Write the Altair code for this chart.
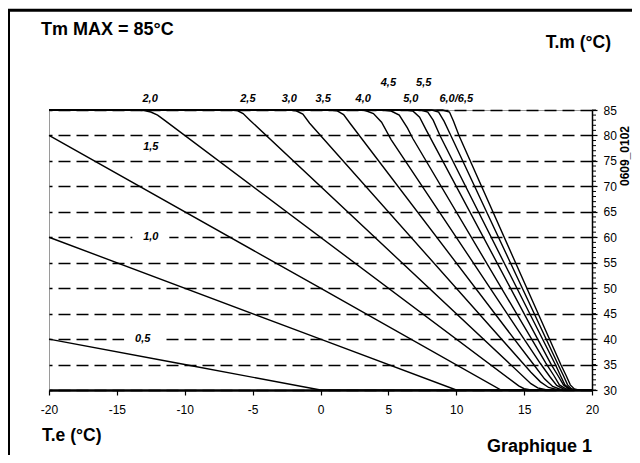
import altair as alt
import pandas as pd

# ---------------- data ----------------
k_names = ["0,5", "1,0", "1,5", "2,0", "2,5", "3,0", "3,5",
           "4,0", "4,5", "5,0", "5,5", "6,0", "6,5"]

te_points = {
    "0,5": [-20, -10, 0, 20],
    "1,0": [-20, 0, 10, 20],
    "1,5": [-20, 0, 13.3, 20],
    "2,0": [-20, -13.6, -13.0, -12.5, -12.0, -11.5, 14.6, 15.0, 15.5, 20],
    "2,5": [-20, -6.6, -6.1, -5.7, -5.2, 15.5, 16.0, 16.6, 17.2, 20],
    "3,0": [-20, -2.3, -1.8, -1.3, -0.8, 15.5, 16.2, 16.8, 17.4, 18.0, 20],
    "3,5": [-20, 0.7, 1.2, 1.7, 2.2, 15.7, 16.5, 17.1, 17.7, 18.3, 20],
    "4,0": [-20, 2.7, 3.3, 3.9, 4.5, 5.2, 16.2, 16.9, 17.4, 17.9, 18.4, 20],
    "4,5": [-20, 4.6, 5.2, 5.8, 6.4, 6.8, 16.6, 17.2, 17.6, 18.1, 18.6, 20],
    "5,0": [-20, 6.3, 6.8, 7.3, 7.8, 17.0, 17.5, 17.9, 18.3, 18.7, 20],
    "5,5": [-20, 7.4, 7.9, 8.3, 8.8, 17.3, 17.7, 18.0, 18.4, 18.8, 20],
    "6,0": [-20, 8.2, 8.7, 9.1, 9.6, 17.5, 17.9, 18.2, 18.5, 18.9, 20],
    "6,5": [-20, 9.0, 9.5, 9.8, 10.2, 17.7, 18.1, 18.4, 18.7, 19.0, 20],
}
tm_points = {
    "0,5": [40, 35, 30, 30],
    "1,0": [60, 40, 30, 30],
    "1,5": [80, 50, 30, 30],
    "2,0": [85, 85, 84.9, 84.6, 84.0, 83.0, 30.8, 30.25, 30, 30],
    "2,5": [85, 85, 84.85, 84.3, 83.0, 31.25, 30.4, 30.05, 30, 30],
    "3,0": [85, 85, 84.85, 84.2, 82.4, 33.5, 31.6, 30.5, 30.1, 30, 30],
    "3,5": [85, 85, 84.85, 84.1, 82.3, 35, 32.2, 30.7, 30.1, 30, 30],
    "4,0": [85, 85, 84.9, 84.3, 82.6, 79.2, 35.2, 32.6, 30.9, 30.2, 30, 30],
    "4,5": [85, 85, 84.8, 84.0, 81.5, 79.4, 35.3, 32.8, 31.0, 30.2, 30, 30],
    "5,0": [85, 85, 84.8, 83.6, 81.0, 35, 32.8, 31.0, 30.2, 30, 30],
    "5,5": [85, 85, 84.6, 83.0, 80.0, 35, 32.7, 31.0, 30.2, 30, 30],
    "6,0": [85, 85, 84.6, 82.8, 80.0, 35, 32.8, 31.0, 30.2, 30, 30],
    "6,5": [85, 85, 84.6, 82.8, 80.0, 35, 32.8, 31.0, 30.2, 30, 30],
}

# curve labels above the top line (two rows) and inside the plot
top_low_text = ["2,0", "2,5", "3,0", "3,5", "4,0", "5,0", "6,0/6,5"]
top_low_te = [-12.55, -5.35, -2.3, 0.2, 3.15, 6.65, 10.0]
top_high_text = ["4,5", "5,5"]
top_high_te = [5.0, 7.6]
in_text = ["1,5", "1,0", "0,5"]
in_te = [-12.5, -12.5, -13.1]
in_tm = [77.8, 60, 40]

x_ticks = [-20, -15, -10, -5, 0, 5, 10, 15, 20]
y_ticks = [30, 35, 40, 45, 50, 55, 60, 65, 70, 75, 80, 85]
y_minor = list(range(30, 86))

# ---------------- tables ----------------
rows = []
for k in k_names:
    for i, (te, tm) in enumerate(zip(te_points[k], tm_points[k])):
        rows.append({"k": k, "i": i, "te": te, "tm": tm})
curves_df = pd.DataFrame(rows)

FONT = "Liberation Sans"
xs = alt.Scale(domain=[-20, 20], nice=False, zero=False)
ys = alt.Scale(domain=[30, 85], nice=False, zero=False)

x_axis = alt.Axis(
    values=x_ticks, title=None, grid=False, tickSize=5, tickWidth=1.2,
    tickColor="black", domainColor="black", domainWidth=2.5,
    labelFont=FONT, labelFontSize=12, labelColor="black",
    labelPadding=9, labelFlush=False, labelExpr="'' + datum.value")
y_axis = alt.Axis(
    orient="right", values=y_ticks, title=None, grid=True,
    gridDash=[12, 6], gridColor="black", gridWidth=1.6,
    tickSize=5, tickWidth=1.2, tickColor="black",
    domainColor="black", domainWidth=1.5,
    labelFont=FONT, labelFontSize=12, labelColor="black",
    labelPadding=6, labelFlush=False)


def X(field):
    return alt.X(field, scale=xs, axis=x_axis)


def Y(field):
    return alt.Y(field, scale=ys, axis=y_axis)


curves = alt.Chart(curves_df).mark_line(
    color="black", strokeWidth=1.4, interpolate="linear"
).encode(x=X("te:Q"), y=Y("tm:Q"), detail="k:N", order="i:Q")

minor = alt.Chart(pd.DataFrame({"v": y_minor})).mark_rule(
    color="black", strokeWidth=1
).encode(y=Y("v:Q"), x=alt.value(543), x2=alt.value(547))

low_labels = alt.Chart(pd.DataFrame({"t": top_low_text, "te": top_low_te, "tm": [85] * len(top_low_te)})).mark_text(
    font=FONT, fontSize=11, fontStyle="italic", fontWeight="bold", color="black",
    baseline="alphabetic", dy=-8
).encode(x=X("te:Q"), y=Y("tm:Q"), text="t:N")

high_labels = alt.Chart(pd.DataFrame({"t": top_high_text, "te": top_high_te, "tm": [85] * len(top_high_te)})).mark_text(
    font=FONT, fontSize=11, fontStyle="italic", fontWeight="bold", color="black",
    baseline="alphabetic", dy=-24
).encode(x=X("te:Q"), y=Y("tm:Q"), text="t:N")

in_df = pd.DataFrame({"t": in_text, "te": in_te, "tm": in_tm})
in_bg = alt.Chart(in_df).mark_point(
    shape="M-1.85,-0.4L1.85,-0.4L1.85,0.4L-1.85,0.4Z", size=400,
    filled=True, color="white", opacity=1, strokeWidth=0
).encode(x=X("te:Q"), y=Y("tm:Q"))
in_labels = alt.Chart(in_df).mark_text(
    font=FONT, fontSize=11, fontStyle="italic", fontWeight="bold", color="black",
    baseline="middle"
).encode(x=X("te:Q"), y=Y("tm:Q"), text="t:N")


def note(txt, x, y, size=18, align="left", angle=0, weight="bold"):
    return alt.Chart(pd.DataFrame({"t": [txt]})).mark_text(
        font=FONT, fontSize=size, fontWeight=weight, color="black",
        align=align, baseline="alphabetic", angle=angle
    ).encode(x=alt.value(x), y=alt.value(y), text="t:N")


title_tm_max = note("Tm MAX = 85°C", -8, -75, size=18)
title_tm = note("T.m (°C)", 562, -62, size=17.5, align="right")
title_te = note("T.e (°C)", -7, 331, size=17.5)
title_graph = note("Graphique 1", 543, 342, size=18, align="right")
code = alt.Chart(pd.DataFrame({"t": ["0609_0102"]})).mark_text(
    font=FONT, fontSize=12, fontWeight="bold", color="black",
    align="center", baseline="middle", angle=270
).encode(x=alt.value(576), y=alt.value(46), text="t:N")

frame_df = pd.DataFrame({"a": [0]})
frame_left = alt.Chart(frame_df).mark_rule(color="black", strokeWidth=3).encode(
    x=alt.value(-40.5), y=alt.value(-101), y2=alt.value(345))
frame_top = alt.Chart(frame_df).mark_rule(color="black", strokeWidth=3).encode(
    x=alt.value(-42), x2=alt.value(583), y=alt.value(-99.7))

chart = alt.layer(
    curves, minor, low_labels, high_labels, in_bg, in_labels,
    title_tm_max, title_tm, title_te, title_graph, code, frame_left, frame_top
).properties(
    width=543, height=280,
    padding={"left": 41, "top": 102, "right": 40, "bottom": 65},
    autosize=alt.AutoSizeParams(type="none"),
).configure_view(
    stroke="#9a9a9a", strokeWidth=1
)

chart.save("out.html", embed_options={"renderer": "svg", "actions": False})
